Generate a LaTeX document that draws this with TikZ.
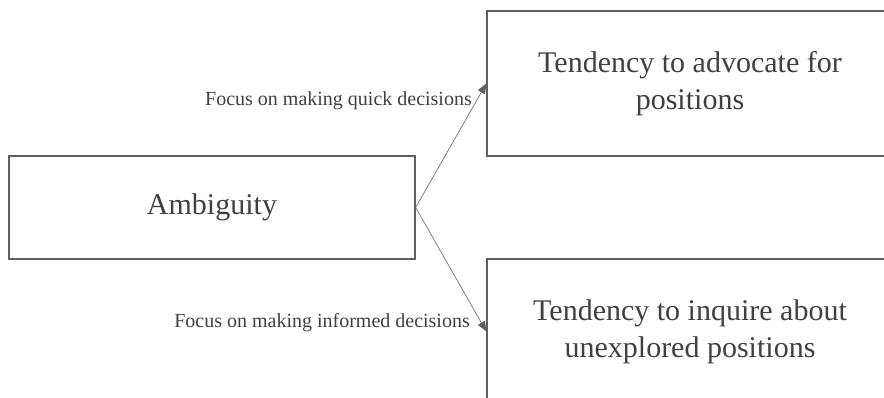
\documentclass[tikz,border=0pt]{standalone}
\usepackage{fontspec}
\setmainfont{Liberation Serif}
\usepackage{tikz}
\usetikzlibrary{arrows.meta}
\definecolor{boxgray}{HTML}{5F5F5F}
\definecolor{textgray}{HTML}{404040}

\begin{document}
\begin{tikzpicture}[x=1pt, y=1pt,
  box/.style={rectangle, draw=boxgray, line width=1.3pt, minimum width=406pt, text=textgray, align=center, font=\fontsize{30}{37}\selectfont},
  lbl/.style={inner sep=0pt, anchor=base east, text=textgray, font=\fontsize{20}{24}\selectfont},
  link/.style={draw=boxgray, line width=0.6pt, -{Triangle[length=10pt, width=8pt]}}]
  \useasboundingbox (0,0) rectangle (884,397);
  \clip (0,0) rectangle (884,397);
  \node [box, minimum height=145pt] (adv) at (690, 313.5) {Tendency to advocate for\\positions};
  \node [box, minimum height=103pt] (amb) at (212, 189.5) {Ambiguity};
  \node [box, minimum height=145pt] (inq) at (690, 65.5) {Tendency to inquire about\\unexplored positions};
  \node [lbl] (quick) at (472, 291.5) {Focus on making quick decisions};
  \node [lbl] (informed) at (470, 70) {Focus on making informed decisions};
  \draw [link] (amb.east) -- (adv.west);
  \draw [link] (amb.east) -- (inq.west);
\end{tikzpicture}
\end{document}
